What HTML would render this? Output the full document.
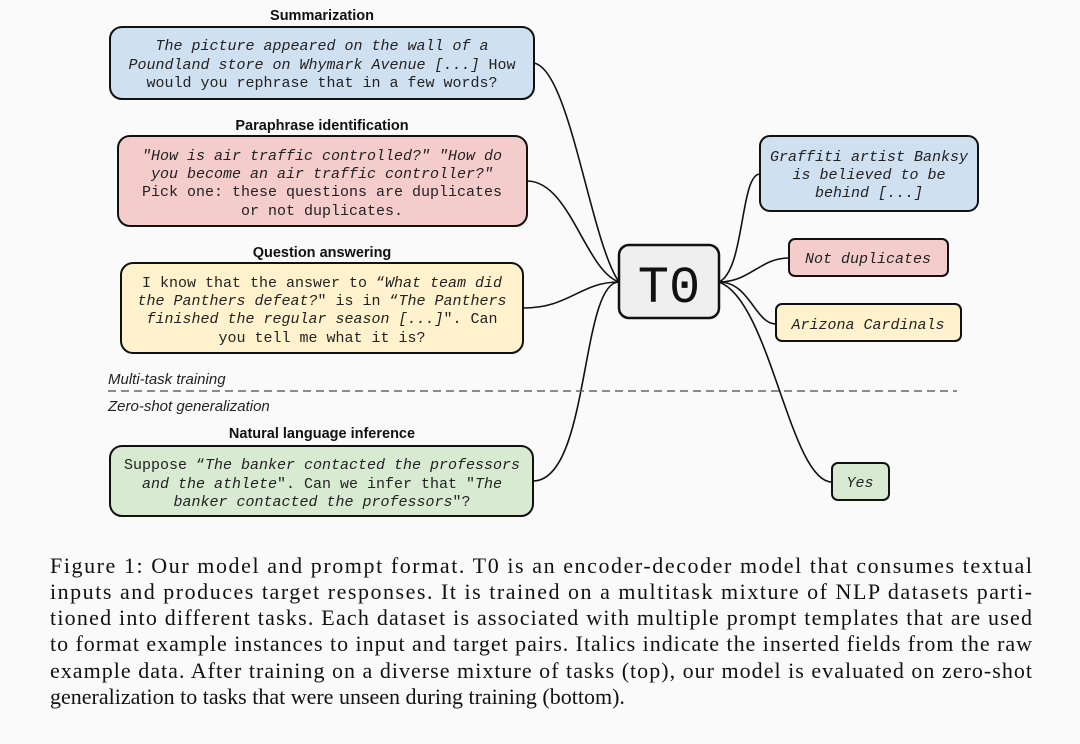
<!DOCTYPE html>
<html><head><meta charset="utf-8"><style>
html,body{margin:0;padding:0;background:#fafafa;}
svg{display:block}
.t{font-family:"Liberation Sans",sans-serif;font-weight:bold;font-size:14.5px;fill:#111;text-anchor:middle}
.m{font-family:"Liberation Mono",monospace;font-size:15px;fill:#222;text-anchor:middle}
.i{font-style:italic}
.c{font-family:"Liberation Serif",serif;font-size:22px;fill:#111}
.l{fill:none;stroke:#111;stroke-width:1.6}
.b{stroke:#111;stroke-width:2}
</style></head><body>
<svg width="1080" height="744" viewBox="0 0 1080 744" xmlns="http://www.w3.org/2000/svg">
<rect width="1080" height="744" fill="#fafafa"/>
<!-- connectors -->
<path class="l" d="M534,63 C570,70 590,240 619,282"/>
<path class="l" d="M527,181 C570,181 585,270 619,282"/>
<path class="l" d="M523,308 C570,308 580,282 619,282"/>
<path class="l" d="M533,481 C590,481 580,282 619,282"/>
<path class="l" d="M719,282 C745,270 740,174 760,174"/>
<path class="l" d="M719,282 C750,282 760,258 789,258"/>
<path class="l" d="M719,282 C750,282 755,324 776,324"/>
<path class="l" d="M719,282 C770,300 790,482 832,482"/>
<!-- dashed -->
<line x1="108" y1="391" x2="957" y2="391" stroke="#666" stroke-width="1.5" stroke-dasharray="8,5"/>
<text x="108" y="384" font-family="Liberation Sans,sans-serif" font-style="italic" font-size="15" fill="#222">Multi-task training</text>
<text x="108" y="411" font-family="Liberation Sans,sans-serif" font-style="italic" font-size="15" fill="#222">Zero-shot generalization</text>
<!-- Summarization -->
<text class="t" x="322" y="20">Summarization</text>
<rect class="b" x="110" y="27" width="424" height="72" rx="12" fill="#cfe0f1"/>
<text class="m i" x="322" y="50">The picture appeared on the wall of a</text>
<text class="m" x="322" y="69"><tspan class="i">Poundland store on Whymark Avenue [...]</tspan> How</text>
<text class="m" x="322" y="87">would you rephrase that in a few words?</text>
<!-- Paraphrase -->
<text class="t" x="322" y="130">Paraphrase identification</text>
<rect class="b" x="118" y="136" width="409" height="90" rx="12" fill="#f4cccc"/>
<text class="m i" x="322" y="160">"How is air traffic controlled?" "How do</text>
<text class="m i" x="322" y="178">you become an air traffic controller?"</text>
<text class="m" x="322" y="196">Pick one: these questions are duplicates</text>
<text class="m" x="322" y="215">or not duplicates.</text>
<!-- QA -->
<text class="t" x="322" y="257">Question answering</text>
<rect class="b" x="121" y="263" width="402" height="90" rx="12" fill="#fff2cc"/>
<text class="m" x="322" y="287">I know that the answer to “<tspan class="i">What team did</tspan></text>
<text class="m" x="322" y="305"><tspan class="i">the Panthers defeat?</tspan>" is in “<tspan class="i">The Panthers</tspan></text>
<text class="m" x="322" y="323"><tspan class="i">finished the regular season [...]</tspan>". Can</text>
<text class="m" x="322" y="342">you tell me what it is?</text>
<!-- NLI -->
<text class="t" x="322" y="438">Natural language inference</text>
<rect class="b" x="110" y="446" width="423" height="70" rx="12" fill="#d9ead3"/>
<text class="m" x="322" y="469">Suppose “<tspan class="i">The banker contacted the professors</tspan></text>
<text class="m" x="322" y="488"><tspan class="i">and the athlete</tspan>". Can we infer that "<tspan class="i">The</tspan></text>
<text class="m" x="322" y="506"><tspan class="i">banker contacted the professors</tspan>"?</text>
<!-- T0 -->
<rect x="619" y="245" width="100" height="73" rx="10" fill="#efefef" stroke="#111" stroke-width="2.5"/>
<text x="669" y="302" font-family="Liberation Mono,monospace" font-size="52" fill="#111" text-anchor="middle">T0</text>
<!-- outputs -->
<rect class="b" x="760" y="136" width="218" height="75" rx="10" fill="#cfe0f1"/>
<text class="m i" x="869" y="161">Graffiti artist Banksy</text>
<text class="m i" x="869" y="179">is believed to be</text>
<text class="m i" x="869" y="197">behind [...]</text>
<rect class="b" x="789" y="239" width="159" height="37" rx="6" fill="#f4cccc"/>
<text class="m i" x="868" y="263">Not duplicates</text>
<rect class="b" x="776" y="304" width="185" height="37" rx="6" fill="#fff2cc"/>
<text class="m i" x="868" y="329">Arizona Cardinals</text>
<rect class="b" x="832" y="463" width="57" height="37" rx="6" fill="#d9ead3"/>
<text class="m i" x="860" y="487">Yes</text>
<!-- caption -->
<text class="c" x="50" y="573" textLength="982" lengthAdjust="spacing">Figure 1: Our model and prompt format. T0 is an encoder-decoder model that consumes textual</text>
<text class="c" x="50" y="599" textLength="982" lengthAdjust="spacing">inputs and produces target responses. It is trained on a multitask mixture of NLP datasets parti-</text>
<text class="c" x="50" y="625" textLength="982" lengthAdjust="spacing">tioned into different tasks. Each dataset is associated with multiple prompt templates that are used</text>
<text class="c" x="50" y="651" textLength="982" lengthAdjust="spacing">to format example instances to input and target pairs. Italics indicate the inserted fields from the raw</text>
<text class="c" x="50" y="678" textLength="982" lengthAdjust="spacing">example data. After training on a diverse mixture of tasks (top), our model is evaluated on zero-shot</text>
<text class="c" x="50" y="704">generalization to tasks that were unseen during training (bottom).</text>
</svg>
</body></html>
